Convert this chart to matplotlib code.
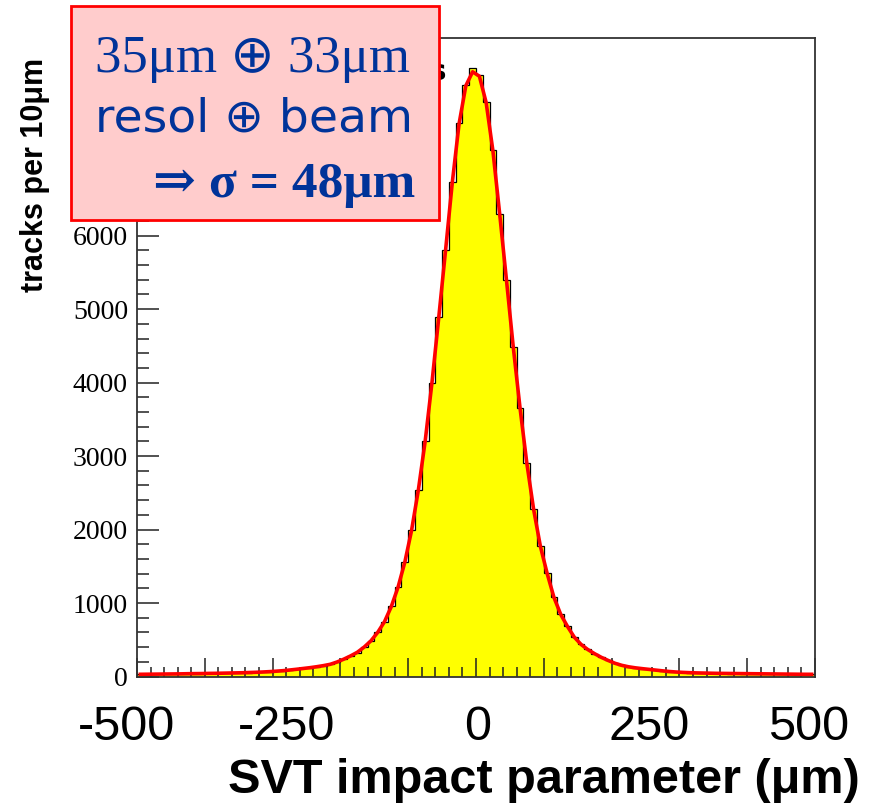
import numpy as np
import matplotlib
matplotlib.use("Agg")
import matplotlib.pyplot as plt
from matplotlib.patches import Rectangle
from matplotlib.ticker import MultipleLocator

# SVT impact parameter histogram, bins of 10 um from -500 to 500
bin_edges = np.arange(-500, 501, 10)

# histogram contents (tracks per 10 um), read bin by bin
counts_left = [28, 31, 30, 33, 32, 34, 37, 36, 40, 39,
               42, 44, 43, 48, 47, 52, 53, 58, 60, 67,
               71, 80, 89, 100, 110, 120, 128, 140, 165, 200,
               238, 278, 322, 398, 483, 600, 742, 955, 1215, 1560,
               1990, 2540, 3200, 3995, 4890, 5800, 6730, 7530, 8050, 8275]
counts_right = [8185, 7820, 7160, 6290, 5390, 4480, 3650, 2900, 2274, 1770,
                1402, 1076, 844, 681, 531, 436, 368, 313, 259, 218,
                177, 150, 130, 118, 108, 100, 86, 78, 66, 60,
                55, 52, 48, 47, 44, 43, 42, 40, 41, 38,
                38, 36, 37, 34, 35, 32, 33, 30, 31, 29]
counts = np.array(counts_left + counts_right)

# fitted curve evaluated at bin centres
fit_left = [30, 31, 32, 33, 34, 35, 36, 38, 39, 40,
            42, 43, 45, 47, 49, 51, 54, 57, 61, 66,
            72, 79, 88, 98, 109, 120, 133, 148, 166, 197,
            236, 280, 330, 400, 485, 600, 745, 950, 1215, 1555,
            1990, 2540, 3200, 3995, 4880, 5790, 6720, 7520, 8040, 8230]
fit_right = [8170, 7810, 7150, 6290, 5390, 4480, 3650, 2900, 2274, 1770,
             1400, 1076, 844, 680, 535, 436, 366, 310, 260, 218,
             180, 152, 132, 118, 107, 97, 87, 77, 68, 61,
             56, 52, 49, 47, 45, 43, 42, 41, 40, 39,
             38, 37, 36, 35, 34, 33, 32, 31, 30, 30]
fit = np.array(fit_left + fit_right)
centers = bin_edges[:-1] + 5

xtick_values = ["-500", "-250", "0", "250", "500"]
xtick_pos = [-515, -280, 3, 255, 490]   # where the pasted labels sit

W, H = 876, 806
fig = plt.figure(figsize=(W / 100, H / 100), dpi=100)
ax = fig.add_axes([137 / W, (H - 676.5) / H, (815 - 137) / W, (676.5 - 38) / H])

ax.stairs(counts, bin_edges, fill=True, color="#ffff00", zorder=1)
ax.stairs(counts, bin_edges, color="black", linewidth=0.9, zorder=2)
ax.plot(centers, fit, color="#ff0000", linewidth=2.6, zorder=3)

ax.set_xlim(-500, 500)
ax.set_ylim(0, 8690)

ax.xaxis.set_major_locator(MultipleLocator(100))
ax.xaxis.set_minor_locator(MultipleLocator(20))
ax.yaxis.set_major_locator(MultipleLocator(1000))
ax.yaxis.set_minor_locator(MultipleLocator(200))
ax.tick_params(axis="x", which="both", direction="in", labelbottom=False, width=1.1, color="#222222")
ax.tick_params(axis="x", which="major", length=13.5)
ax.tick_params(axis="x", which="minor", length=7)
ax.tick_params(axis="y", which="both", direction="in", width=1.1, color="#222222")
ax.tick_params(axis="y", which="major", length=15.5, pad=6.5)
ax.tick_params(axis="y", which="minor", length=8.5)
for lab in ax.get_yticklabels():
    lab.set_family(["Liberation Serif", "DejaVu Serif"])
    lab.set_fontsize(20)
for s in ax.spines.values():
    s.set_color("#333333")
    s.set_linewidth(1.3)

# big x labels, pasted on the slide
lab_y = (676.5 - 740) / (676.5 - 38)
for v, p in zip(xtick_values, xtick_pos):
    ax.text(p, lab_y, v, transform=ax.get_xaxis_transform(), ha="center", va="baseline",
            fontsize=35, family=["Liberation Sans", "DejaVu Sans"], color="black")
fig.text(860 / W, 1 - 793 / H, "SVT impact parameter (μm)", ha="right", va="baseline",
         fontsize=35, fontweight="bold", family=["Liberation Sans", "DejaVu Sans"])

fig.text(35 / W, 1 - 175 / H, "tracks per 10μm", rotation=90, ha="center", va="center",
         fontsize=22, fontweight="bold", family=["Liberation Sans", "DejaVu Sans"])

# text hidden behind the box, only its right edge shows
fig.text(446 / W, 1 - 80 / H, "s", ha="right", va="baseline", fontsize=20,
         fontweight="bold", zorder=1)

# annotation box
box = Rectangle((71 / W, 1 - 220 / H), (439 - 71) / W, (220 - 6) / H, transform=fig.transFigure,
                facecolor="#ffcccc", edgecolor="#ff0000", linewidth=2, zorder=5)
fig.add_artist(box)
blue = "#003399"
fig.text(95 / W, 1 - 72 / H, "35μm ⊕ 33μm", ha="left", va="baseline", fontsize=38,
         color=blue, family=["Liberation Serif", "DejaVu Sans"], zorder=6)
fig.text(95 / W, 1 - 132 / H, "resol ⊕ beam", ha="left", va="baseline", fontsize=34,
         color=blue, family=["DejaVu Sans"], zorder=6)
fig.text(415 / W, 1 - 197 / H, "⇒ σ = 48μm", ha="right", va="baseline", fontsize=37,
         color=blue, fontweight="bold", family=["Liberation Serif", "DejaVu Serif"], zorder=6)

fig.savefig("out.png", dpi=100)
